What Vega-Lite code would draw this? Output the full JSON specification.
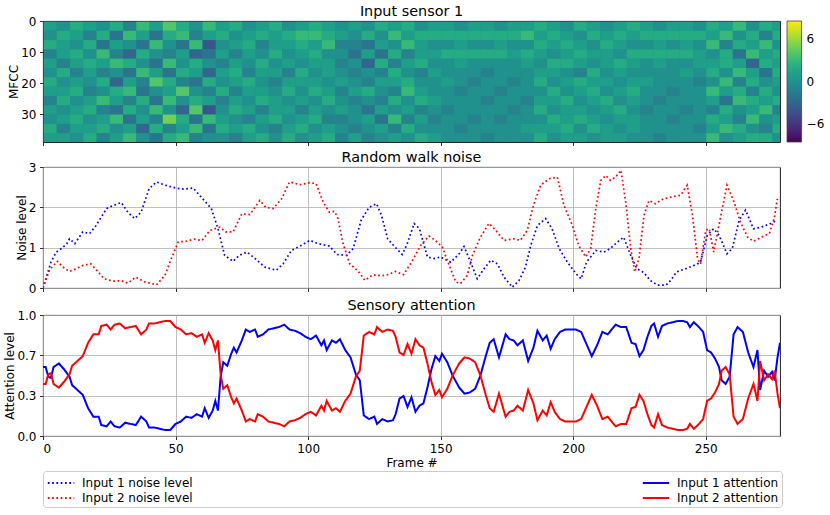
{
  "$schema": "https://vega.github.io/schema/vega-lite/v6.json",
  "padding": {"left": 3, "top": 3, "right": 5, "bottom": 5},
  "config": {
    "font": "DejaVu Sans",
    "view": {"stroke": "#000000", "strokeWidth": 0.9},
    "rect": {"binSpacing": 0},
    "title": {"fontSize": 14.4, "fontWeight": "normal", "color": "#000000", "offset": -4, "anchor": "middle", "frame": "group"},
    "axis": {
      "domain": false,
      "labelFontSize": 12,
      "titleFontSize": 12,
      "titleFontWeight": "normal",
      "labelColor": "#000000",
      "titleColor": "#000000",
      "tickColor": "#000000",
      "tickSize": 3.5,
      "tickWidth": 0.8,
      "labelPadding": 3.5,
      "titlePadding": 0,
      "gridColor": "#b0b0b0",
      "gridWidth": 0.8
    },
    "legend": {"labelFontSize": 12, "labelColor": "#000000"}
  },
  "datasets": {
    "hm": [
      {"f":0,"m":0,"v":1},{"f":0,"m":3,"v":0},{"f":0,"m":6,"v":2},{"f":0,"m":9,"v":-1},{"f":0,"m":12,"v":1},{"f":0,"m":15,"v":0},{"f":0,"m":18,"v":2},{"f":0,"m":21,"v":1},{"f":0,"m":24,"v":-1},{"f":0,"m":27,"v":1},{"f":0,"m":30,"v":0},{"f":0,"m":33,"v":2},{"f":0,"m":36,"v":1},
      {"f":5,"m":0,"v":0},{"f":5,"m":3,"v":2},{"f":5,"m":6,"v":1},{"f":5,"m":9,"v":1},{"f":5,"m":12,"v":-1},{"f":5,"m":15,"v":2},{"f":5,"m":18,"v":0},{"f":5,"m":21,"v":1},{"f":5,"m":24,"v":2},{"f":5,"m":27,"v":0},{"f":5,"m":30,"v":1},{"f":5,"m":33,"v":-1},{"f":5,"m":36,"v":1},
      {"f":10,"m":0,"v":2},{"f":10,"m":3,"v":1},{"f":10,"m":6,"v":0},{"f":10,"m":9,"v":2},{"f":10,"m":12,"v":1},{"f":10,"m":15,"v":-1},{"f":10,"m":18,"v":1},{"f":10,"m":21,"v":2},{"f":10,"m":24,"v":0},{"f":10,"m":27,"v":1},{"f":10,"m":30,"v":2},{"f":10,"m":33,"v":1},{"f":10,"m":36,"v":0},
      {"f":15,"m":0,"v":1},{"f":15,"m":3,"v":-1},{"f":15,"m":6,"v":2},{"f":15,"m":9,"v":0},{"f":15,"m":12,"v":2},{"f":15,"m":15,"v":1},{"f":15,"m":18,"v":0},{"f":15,"m":21,"v":-1},{"f":15,"m":24,"v":1},{"f":15,"m":27,"v":2},{"f":15,"m":30,"v":0},{"f":15,"m":33,"v":1},{"f":15,"m":36,"v":2},
      {"f":20,"m":0,"v":0},{"f":20,"m":3,"v":2},{"f":20,"m":6,"v":-2},{"f":20,"m":9,"v":3},{"f":20,"m":12,"v":1},{"f":20,"m":15,"v":-1},{"f":20,"m":18,"v":2},{"f":20,"m":21,"v":0},{"f":20,"m":24,"v":3},{"f":20,"m":27,"v":-1},{"f":20,"m":30,"v":1},{"f":20,"m":33,"v":2},{"f":20,"m":36,"v":-1},
      {"f":25,"m":0,"v":2},{"f":25,"m":3,"v":-2},{"f":25,"m":6,"v":1},{"f":25,"m":9,"v":-1},{"f":25,"m":12,"v":3},{"f":25,"m":15,"v":0},{"f":25,"m":18,"v":-3},{"f":25,"m":21,"v":2},{"f":25,"m":24,"v":1},{"f":25,"m":27,"v":-2},{"f":25,"m":30,"v":3},{"f":25,"m":33,"v":0},{"f":25,"m":36,"v":1},
      {"f":30,"m":0,"v":-1},{"f":30,"m":3,"v":3},{"f":30,"m":6,"v":0},{"f":30,"m":9,"v":-3},{"f":30,"m":12,"v":2},{"f":30,"m":15,"v":-2},{"f":30,"m":18,"v":1},{"f":30,"m":21,"v":3},{"f":30,"m":24,"v":-1},{"f":30,"m":27,"v":2},{"f":30,"m":30,"v":-2},{"f":30,"m":33,"v":1},{"f":30,"m":36,"v":3},
      {"f":35,"m":0,"v":3},{"f":35,"m":3,"v":1},{"f":35,"m":6,"v":-2},{"f":35,"m":9,"v":2},{"f":35,"m":12,"v":0},{"f":35,"m":15,"v":3},{"f":35,"m":18,"v":-1},{"f":35,"m":21,"v":-2},{"f":35,"m":24,"v":2},{"f":35,"m":27,"v":0},{"f":35,"m":30,"v":1},{"f":35,"m":33,"v":-3},{"f":35,"m":36,"v":0},
      {"f":40,"m":0,"v":1},{"f":40,"m":3,"v":-2},{"f":40,"m":6,"v":3},{"f":40,"m":9,"v":0},{"f":40,"m":12,"v":-2},{"f":40,"m":15,"v":1},{"f":40,"m":18,"v":4},{"f":40,"m":21,"v":0},{"f":40,"m":24,"v":-2},{"f":40,"m":27,"v":3},{"f":40,"m":30,"v":-1},{"f":40,"m":33,"v":2},{"f":40,"m":36,"v":-2},
      {"f":45,"m":0,"v":4},{"f":45,"m":3,"v":2},{"f":45,"m":6,"v":0},{"f":45,"m":9,"v":-1},{"f":45,"m":12,"v":3},{"f":45,"m":15,"v":-2},{"f":45,"m":18,"v":2},{"f":45,"m":21,"v":1},{"f":45,"m":24,"v":3},{"f":45,"m":27,"v":0},{"f":45,"m":30,"v":5},{"f":45,"m":33,"v":-1},{"f":45,"m":36,"v":2},
      {"f":50,"m":0,"v":2},{"f":50,"m":3,"v":3},{"f":50,"m":6,"v":-2},{"f":50,"m":9,"v":1},{"f":50,"m":12,"v":0},{"f":50,"m":15,"v":2},{"f":50,"m":18,"v":-1},{"f":50,"m":21,"v":4},{"f":50,"m":24,"v":0},{"f":50,"m":27,"v":-3},{"f":50,"m":30,"v":2},{"f":50,"m":33,"v":1},{"f":50,"m":36,"v":3},
      {"f":55,"m":0,"v":0},{"f":55,"m":3,"v":-1},{"f":55,"m":6,"v":3},{"f":55,"m":9,"v":-3},{"f":55,"m":12,"v":2},{"f":55,"m":15,"v":1},{"f":55,"m":18,"v":-2},{"f":55,"m":21,"v":0},{"f":55,"m":24,"v":2},{"f":55,"m":27,"v":4},{"f":55,"m":30,"v":-2},{"f":55,"m":33,"v":3},{"f":55,"m":36,"v":-1},
      {"f":60,"m":0,"v":3},{"f":60,"m":3,"v":1},{"f":60,"m":6,"v":-4},{"f":60,"m":9,"v":-2},{"f":60,"m":12,"v":0},{"f":60,"m":15,"v":-3},{"f":60,"m":18,"v":2},{"f":60,"m":21,"v":-1},{"f":60,"m":24,"v":1},{"f":60,"m":27,"v":-4},{"f":60,"m":30,"v":3},{"f":60,"m":33,"v":-2},{"f":60,"m":36,"v":0},
      {"f":65,"m":0,"v":1},{"f":65,"m":3,"v":2},{"f":65,"m":6,"v":0},{"f":65,"m":9,"v":1},{"f":65,"m":12,"v":-1},{"f":65,"m":15,"v":1},{"f":65,"m":18,"v":0},{"f":65,"m":21,"v":2},{"f":65,"m":24,"v":-1},{"f":65,"m":27,"v":0},{"f":65,"m":30,"v":1},{"f":65,"m":33,"v":2},{"f":65,"m":36,"v":0},
      {"f":70,"m":0,"v":2},{"f":70,"m":3,"v":0},{"f":70,"m":6,"v":1},{"f":70,"m":9,"v":-1},{"f":70,"m":12,"v":1},{"f":70,"m":15,"v":2},{"f":70,"m":18,"v":1},{"f":70,"m":21,"v":-1},{"f":70,"m":24,"v":1},{"f":70,"m":27,"v":2},{"f":70,"m":30,"v":0},{"f":70,"m":33,"v":1},{"f":70,"m":36,"v":-1},
      {"f":75,"m":0,"v":0},{"f":75,"m":3,"v":1},{"f":75,"m":6,"v":2},{"f":75,"m":9,"v":1},{"f":75,"m":12,"v":0},{"f":75,"m":15,"v":-1},{"f":75,"m":18,"v":2},{"f":75,"m":21,"v":1},{"f":75,"m":24,"v":0},{"f":75,"m":27,"v":1},{"f":75,"m":30,"v":-1},{"f":75,"m":33,"v":2},{"f":75,"m":36,"v":1},
      {"f":80,"m":0,"v":1},{"f":80,"m":3,"v":2},{"f":80,"m":6,"v":-1},{"f":80,"m":9,"v":0},{"f":80,"m":12,"v":2},{"f":80,"m":15,"v":1},{"f":80,"m":18,"v":0},{"f":80,"m":21,"v":1},{"f":80,"m":24,"v":2},{"f":80,"m":27,"v":-1},{"f":80,"m":30,"v":1},{"f":80,"m":33,"v":0},{"f":80,"m":36,"v":2},
      {"f":85,"m":0,"v":2},{"f":85,"m":3,"v":1},{"f":85,"m":6,"v":1},{"f":85,"m":9,"v":2},{"f":85,"m":12,"v":0},{"f":85,"m":15,"v":1},{"f":85,"m":18,"v":-1},{"f":85,"m":21,"v":0},{"f":85,"m":24,"v":1},{"f":85,"m":27,"v":1},{"f":85,"m":30,"v":2},{"f":85,"m":33,"v":-1},{"f":85,"m":36,"v":0},
      {"f":90,"m":0,"v":0},{"f":90,"m":3,"v":2},{"f":90,"m":6,"v":1},{"f":90,"m":9,"v":0},{"f":90,"m":12,"v":1},{"f":90,"m":15,"v":-1},{"f":90,"m":18,"v":1},{"f":90,"m":21,"v":2},{"f":90,"m":24,"v":0},{"f":90,"m":27,"v":1},{"f":90,"m":30,"v":0},{"f":90,"m":33,"v":1},{"f":90,"m":36,"v":2},
      {"f":95,"m":0,"v":1},{"f":95,"m":3,"v":3},{"f":95,"m":6,"v":2},{"f":95,"m":9,"v":1},{"f":95,"m":12,"v":0},{"f":95,"m":15,"v":2},{"f":95,"m":18,"v":1},{"f":95,"m":21,"v":0},{"f":95,"m":24,"v":1},{"f":95,"m":27,"v":-1},{"f":95,"m":30,"v":1},{"f":95,"m":33,"v":2},{"f":95,"m":36,"v":0},
      {"f":100,"m":0,"v":2},{"f":100,"m":3,"v":3},{"f":100,"m":6,"v":1},{"f":100,"m":9,"v":2},{"f":100,"m":12,"v":1},{"f":100,"m":15,"v":0},{"f":100,"m":18,"v":1},{"f":100,"m":21,"v":2},{"f":100,"m":24,"v":0},{"f":100,"m":27,"v":1},{"f":100,"m":30,"v":2},{"f":100,"m":33,"v":0},{"f":100,"m":36,"v":1},
      {"f":105,"m":0,"v":1},{"f":105,"m":3,"v":2},{"f":105,"m":6,"v":3},{"f":105,"m":9,"v":0},{"f":105,"m":12,"v":1},{"f":105,"m":15,"v":1},{"f":105,"m":18,"v":0},{"f":105,"m":21,"v":1},{"f":105,"m":24,"v":2},{"f":105,"m":27,"v":0},{"f":105,"m":30,"v":-1},{"f":105,"m":33,"v":1},{"f":105,"m":36,"v":2},
      {"f":110,"m":0,"v":0},{"f":110,"m":3,"v":1},{"f":110,"m":6,"v":-1},{"f":110,"m":9,"v":0},{"f":110,"m":12,"v":-1},{"f":110,"m":15,"v":0},{"f":110,"m":18,"v":1},{"f":110,"m":21,"v":-1},{"f":110,"m":24,"v":0},{"f":110,"m":27,"v":1},{"f":110,"m":30,"v":-1},{"f":110,"m":33,"v":0},{"f":110,"m":36,"v":-1},
      {"f":115,"m":0,"v":1},{"f":115,"m":3,"v":0},{"f":115,"m":6,"v":-1},{"f":115,"m":9,"v":-2},{"f":115,"m":12,"v":0},{"f":115,"m":15,"v":-1},{"f":115,"m":18,"v":0},{"f":115,"m":21,"v":1},{"f":115,"m":24,"v":-1},{"f":115,"m":27,"v":0},{"f":115,"m":30,"v":0},{"f":115,"m":33,"v":-1},{"f":115,"m":36,"v":1},
      {"f":120,"m":0,"v":0},{"f":120,"m":3,"v":2},{"f":120,"m":6,"v":-2},{"f":120,"m":9,"v":1},{"f":120,"m":12,"v":-3},{"f":120,"m":15,"v":0},{"f":120,"m":18,"v":-1},{"f":120,"m":21,"v":2},{"f":120,"m":24,"v":0},{"f":120,"m":27,"v":-2},{"f":120,"m":30,"v":1},{"f":120,"m":33,"v":0},{"f":120,"m":36,"v":-1},
      {"f":125,"m":0,"v":2},{"f":125,"m":3,"v":0},{"f":125,"m":6,"v":1},{"f":125,"m":9,"v":-2},{"f":125,"m":12,"v":2},{"f":125,"m":15,"v":-1},{"f":125,"m":18,"v":1},{"f":125,"m":21,"v":0},{"f":125,"m":24,"v":-1},{"f":125,"m":27,"v":1},{"f":125,"m":30,"v":-2},{"f":125,"m":33,"v":1},{"f":125,"m":36,"v":0},
      {"f":130,"m":0,"v":1},{"f":130,"m":3,"v":3},{"f":130,"m":6,"v":0},{"f":130,"m":9,"v":2},{"f":130,"m":12,"v":-1},{"f":130,"m":15,"v":2},{"f":130,"m":18,"v":1},{"f":130,"m":21,"v":-1},{"f":130,"m":24,"v":2},{"f":130,"m":27,"v":0},{"f":130,"m":30,"v":3},{"f":130,"m":33,"v":-1},{"f":130,"m":36,"v":1},
      {"f":135,"m":0,"v":2},{"f":135,"m":3,"v":1},{"f":135,"m":6,"v":3},{"f":135,"m":9,"v":-1},{"f":135,"m":12,"v":1},{"f":135,"m":15,"v":0},{"f":135,"m":18,"v":2},{"f":135,"m":21,"v":3},{"f":135,"m":24,"v":0},{"f":135,"m":27,"v":1},{"f":135,"m":30,"v":-1},{"f":135,"m":33,"v":2},{"f":135,"m":36,"v":0},
      {"f":140,"m":0,"v":0},{"f":140,"m":3,"v":2},{"f":140,"m":6,"v":1},{"f":140,"m":9,"v":1},{"f":140,"m":12,"v":2},{"f":140,"m":15,"v":-1},{"f":140,"m":18,"v":0},{"f":140,"m":21,"v":1},{"f":140,"m":24,"v":2},{"f":140,"m":27,"v":-1},{"f":140,"m":30,"v":1},{"f":140,"m":33,"v":0},{"f":140,"m":36,"v":2},
      {"f":145,"m":0,"v":1},{"f":145,"m":3,"v":2},{"f":145,"m":6,"v":0},{"f":145,"m":9,"v":1},{"f":145,"m":12,"v":0},{"f":145,"m":15,"v":1},{"f":145,"m":18,"v":0},{"f":145,"m":21,"v":0},{"f":145,"m":24,"v":1},{"f":145,"m":27,"v":0},{"f":145,"m":30,"v":-1},{"f":145,"m":33,"v":0},{"f":145,"m":36,"v":1},
      {"f":150,"m":0,"v":1},{"f":150,"m":3,"v":2},{"f":150,"m":6,"v":0},{"f":150,"m":9,"v":2},{"f":150,"m":12,"v":0},{"f":150,"m":15,"v":0},{"f":150,"m":18,"v":1},{"f":150,"m":21,"v":0},{"f":150,"m":24,"v":0},{"f":150,"m":27,"v":-1},{"f":150,"m":30,"v":0},{"f":150,"m":33,"v":0},{"f":150,"m":36,"v":0},
      {"f":155,"m":0,"v":0},{"f":155,"m":3,"v":2},{"f":155,"m":6,"v":1},{"f":155,"m":9,"v":2},{"f":155,"m":12,"v":1},{"f":155,"m":15,"v":0},{"f":155,"m":18,"v":0},{"f":155,"m":21,"v":-1},{"f":155,"m":24,"v":0},{"f":155,"m":27,"v":0},{"f":155,"m":30,"v":0},{"f":155,"m":33,"v":-1},{"f":155,"m":36,"v":0},
      {"f":160,"m":0,"v":1},{"f":160,"m":3,"v":2},{"f":160,"m":6,"v":0},{"f":160,"m":9,"v":2},{"f":160,"m":12,"v":0},{"f":160,"m":15,"v":0},{"f":160,"m":18,"v":-1},{"f":160,"m":21,"v":0},{"f":160,"m":24,"v":0},{"f":160,"m":27,"v":0},{"f":160,"m":30,"v":-1},{"f":160,"m":33,"v":0},{"f":160,"m":36,"v":0},
      {"f":165,"m":0,"v":1},{"f":165,"m":3,"v":2},{"f":165,"m":6,"v":0},{"f":165,"m":9,"v":2},{"f":165,"m":12,"v":0},{"f":165,"m":15,"v":-1},{"f":165,"m":18,"v":0},{"f":165,"m":21,"v":0},{"f":165,"m":24,"v":-1},{"f":165,"m":27,"v":0},{"f":165,"m":30,"v":0},{"f":165,"m":33,"v":0},{"f":165,"m":36,"v":-1},
      {"f":170,"m":0,"v":0},{"f":170,"m":3,"v":2},{"f":170,"m":6,"v":1},{"f":170,"m":9,"v":2},{"f":170,"m":12,"v":0},{"f":170,"m":15,"v":0},{"f":170,"m":18,"v":0},{"f":170,"m":21,"v":-1},{"f":170,"m":24,"v":0},{"f":170,"m":27,"v":0},{"f":170,"m":30,"v":-1},{"f":170,"m":33,"v":0},{"f":170,"m":36,"v":0},
      {"f":175,"m":0,"v":1},{"f":175,"m":3,"v":2},{"f":175,"m":6,"v":0},{"f":175,"m":9,"v":1},{"f":175,"m":12,"v":0},{"f":175,"m":15,"v":0},{"f":175,"m":18,"v":-1},{"f":175,"m":21,"v":0},{"f":175,"m":24,"v":0},{"f":175,"m":27,"v":-1},{"f":175,"m":30,"v":0},{"f":175,"m":33,"v":0},{"f":175,"m":36,"v":0},
      {"f":180,"m":0,"v":1},{"f":180,"m":3,"v":3},{"f":180,"m":6,"v":0},{"f":180,"m":9,"v":2},{"f":180,"m":12,"v":1},{"f":180,"m":15,"v":0},{"f":180,"m":18,"v":0},{"f":180,"m":21,"v":0},{"f":180,"m":24,"v":-1},{"f":180,"m":27,"v":0},{"f":180,"m":30,"v":0},{"f":180,"m":33,"v":1},{"f":180,"m":36,"v":0},
      {"f":185,"m":0,"v":2},{"f":185,"m":3,"v":1},{"f":185,"m":6,"v":2},{"f":185,"m":9,"v":1},{"f":185,"m":12,"v":0},{"f":185,"m":15,"v":1},{"f":185,"m":18,"v":2},{"f":185,"m":21,"v":0},{"f":185,"m":24,"v":1},{"f":185,"m":27,"v":2},{"f":185,"m":30,"v":0},{"f":185,"m":33,"v":1},{"f":185,"m":36,"v":2},
      {"f":190,"m":0,"v":1},{"f":190,"m":3,"v":2},{"f":190,"m":6,"v":1},{"f":190,"m":9,"v":0},{"f":190,"m":12,"v":2},{"f":190,"m":15,"v":1},{"f":190,"m":18,"v":0},{"f":190,"m":21,"v":2},{"f":190,"m":24,"v":1},{"f":190,"m":27,"v":0},{"f":190,"m":30,"v":2},{"f":190,"m":33,"v":1},{"f":190,"m":36,"v":0},
      {"f":195,"m":0,"v":0},{"f":195,"m":3,"v":1},{"f":195,"m":6,"v":2},{"f":195,"m":9,"v":1},{"f":195,"m":12,"v":2},{"f":195,"m":15,"v":0},{"f":195,"m":18,"v":1},{"f":195,"m":21,"v":0},{"f":195,"m":24,"v":2},{"f":195,"m":27,"v":1},{"f":195,"m":30,"v":1},{"f":195,"m":33,"v":2},{"f":195,"m":36,"v":1},
      {"f":200,"m":0,"v":2},{"f":200,"m":3,"v":0},{"f":200,"m":6,"v":1},{"f":200,"m":9,"v":2},{"f":200,"m":12,"v":1},{"f":200,"m":15,"v":-1},{"f":200,"m":18,"v":2},{"f":200,"m":21,"v":1},{"f":200,"m":24,"v":0},{"f":200,"m":27,"v":1},{"f":200,"m":30,"v":2},{"f":200,"m":33,"v":0},{"f":200,"m":36,"v":1},
      {"f":205,"m":0,"v":1},{"f":205,"m":3,"v":2},{"f":205,"m":6,"v":0},{"f":205,"m":9,"v":1},{"f":205,"m":12,"v":0},{"f":205,"m":15,"v":2},{"f":205,"m":18,"v":1},{"f":205,"m":21,"v":2},{"f":205,"m":24,"v":1},{"f":205,"m":27,"v":0},{"f":205,"m":30,"v":1},{"f":205,"m":33,"v":2},{"f":205,"m":36,"v":0},
      {"f":210,"m":0,"v":0},{"f":210,"m":3,"v":1},{"f":210,"m":6,"v":2},{"f":210,"m":9,"v":1},{"f":210,"m":12,"v":1},{"f":210,"m":15,"v":0},{"f":210,"m":18,"v":1},{"f":210,"m":21,"v":0},{"f":210,"m":24,"v":2},{"f":210,"m":27,"v":1},{"f":210,"m":30,"v":0},{"f":210,"m":33,"v":1},{"f":210,"m":36,"v":1},
      {"f":215,"m":0,"v":1},{"f":215,"m":3,"v":2},{"f":215,"m":6,"v":1},{"f":215,"m":9,"v":0},{"f":215,"m":12,"v":2},{"f":215,"m":15,"v":1},{"f":215,"m":18,"v":0},{"f":215,"m":21,"v":1},{"f":215,"m":24,"v":0},{"f":215,"m":27,"v":2},{"f":215,"m":30,"v":1},{"f":215,"m":33,"v":0},{"f":215,"m":36,"v":1},
      {"f":220,"m":0,"v":2},{"f":220,"m":3,"v":1},{"f":220,"m":6,"v":0},{"f":220,"m":9,"v":2},{"f":220,"m":12,"v":1},{"f":220,"m":15,"v":0},{"f":220,"m":18,"v":1},{"f":220,"m":21,"v":2},{"f":220,"m":24,"v":1},{"f":220,"m":27,"v":0},{"f":220,"m":30,"v":1},{"f":220,"m":33,"v":1},{"f":220,"m":36,"v":0},
      {"f":225,"m":0,"v":1},{"f":225,"m":3,"v":2},{"f":225,"m":6,"v":0},{"f":225,"m":9,"v":2},{"f":225,"m":12,"v":0},{"f":225,"m":15,"v":0},{"f":225,"m":18,"v":1},{"f":225,"m":21,"v":0},{"f":225,"m":24,"v":0},{"f":225,"m":27,"v":-1},{"f":225,"m":30,"v":0},{"f":225,"m":33,"v":0},{"f":225,"m":36,"v":0},
      {"f":230,"m":0,"v":0},{"f":230,"m":3,"v":2},{"f":230,"m":6,"v":1},{"f":230,"m":9,"v":2},{"f":230,"m":12,"v":1},{"f":230,"m":15,"v":0},{"f":230,"m":18,"v":0},{"f":230,"m":21,"v":0},{"f":230,"m":24,"v":-1},{"f":230,"m":27,"v":0},{"f":230,"m":30,"v":0},{"f":230,"m":33,"v":0},{"f":230,"m":36,"v":-1},
      {"f":235,"m":0,"v":1},{"f":235,"m":3,"v":2},{"f":235,"m":6,"v":0},{"f":235,"m":9,"v":2},{"f":235,"m":12,"v":0},{"f":235,"m":15,"v":0},{"f":235,"m":18,"v":0},{"f":235,"m":21,"v":-1},{"f":235,"m":24,"v":0},{"f":235,"m":27,"v":0},{"f":235,"m":30,"v":-1},{"f":235,"m":33,"v":0},{"f":235,"m":36,"v":0},
      {"f":240,"m":0,"v":1},{"f":240,"m":3,"v":2},{"f":240,"m":6,"v":1},{"f":240,"m":9,"v":2},{"f":240,"m":12,"v":0},{"f":240,"m":15,"v":1},{"f":240,"m":18,"v":0},{"f":240,"m":21,"v":0},{"f":240,"m":24,"v":0},{"f":240,"m":27,"v":-1},{"f":240,"m":30,"v":0},{"f":240,"m":33,"v":0},{"f":240,"m":36,"v":0},
      {"f":245,"m":0,"v":0},{"f":245,"m":3,"v":2},{"f":245,"m":6,"v":0},{"f":245,"m":9,"v":1},{"f":245,"m":12,"v":1},{"f":245,"m":15,"v":0},{"f":245,"m":18,"v":-1},{"f":245,"m":21,"v":0},{"f":245,"m":24,"v":0},{"f":245,"m":27,"v":0},{"f":245,"m":30,"v":0},{"f":245,"m":33,"v":-1},{"f":245,"m":36,"v":0},
      {"f":250,"m":0,"v":2},{"f":250,"m":3,"v":1},{"f":250,"m":6,"v":3},{"f":250,"m":9,"v":0},{"f":250,"m":12,"v":1},{"f":250,"m":15,"v":2},{"f":250,"m":18,"v":0},{"f":250,"m":21,"v":3},{"f":250,"m":24,"v":1},{"f":250,"m":27,"v":-1},{"f":250,"m":30,"v":2},{"f":250,"m":33,"v":1},{"f":250,"m":36,"v":3},
      {"f":255,"m":0,"v":1},{"f":255,"m":3,"v":3},{"f":255,"m":6,"v":-1},{"f":255,"m":9,"v":2},{"f":255,"m":12,"v":2},{"f":255,"m":15,"v":0},{"f":255,"m":18,"v":3},{"f":255,"m":21,"v":1},{"f":255,"m":24,"v":-2},{"f":255,"m":27,"v":2},{"f":255,"m":30,"v":1},{"f":255,"m":33,"v":3},{"f":255,"m":36,"v":0},
      {"f":260,"m":0,"v":3},{"f":260,"m":3,"v":0},{"f":260,"m":6,"v":2},{"f":260,"m":9,"v":-2},{"f":260,"m":12,"v":1},{"f":260,"m":15,"v":3},{"f":260,"m":18,"v":-1},{"f":260,"m":21,"v":2},{"f":260,"m":24,"v":3},{"f":260,"m":27,"v":0},{"f":260,"m":30,"v":-1},{"f":260,"m":33,"v":2},{"f":260,"m":36,"v":1},
      {"f":265,"m":0,"v":0},{"f":265,"m":3,"v":2},{"f":265,"m":6,"v":1},{"f":265,"m":9,"v":3},{"f":265,"m":12,"v":-3},{"f":265,"m":15,"v":1},{"f":265,"m":18,"v":2},{"f":265,"m":21,"v":-1},{"f":265,"m":24,"v":2},{"f":265,"m":27,"v":1},{"f":265,"m":30,"v":3},{"f":265,"m":33,"v":0},{"f":265,"m":36,"v":2},
      {"f":270,"m":0,"v":2},{"f":270,"m":3,"v":-1},{"f":270,"m":6,"v":3},{"f":270,"m":9,"v":1},{"f":270,"m":12,"v":2},{"f":270,"m":15,"v":-2},{"f":270,"m":18,"v":0},{"f":270,"m":21,"v":2},{"f":270,"m":24,"v":1},{"f":270,"m":27,"v":3},{"f":270,"m":30,"v":0},{"f":270,"m":33,"v":-1},{"f":270,"m":36,"v":2},
      {"f":275,"m":0,"v":1},{"f":275,"m":3,"v":2},{"f":275,"m":6,"v":0},{"f":275,"m":9,"v":2},{"f":275,"m":12,"v":1},{"f":275,"m":15,"v":2},{"f":275,"m":18,"v":1},{"f":275,"m":21,"v":0},{"f":275,"m":24,"v":2},{"f":275,"m":27,"v":-1},{"f":275,"m":30,"v":1},{"f":275,"m":33,"v":2},{"f":275,"m":36,"v":0}
    ],
    "noise": [
      {"f":0,"s":"n1","v":0},{"f":3,"s":"n1","v":0.64},{"f":5,"s":"n1","v":0.89},{"f":7,"s":"n1","v":0.98},{"f":9,"s":"n1","v":1.1},{"f":10,"s":"n1","v":1.22},{"f":12,"s":"n1","v":1.1},{"f":15,"s":"n1","v":1.39},{"f":17.6,"s":"n1","v":1.35},{"f":20,"s":"n1","v":1.55},{"f":24,"s":"n1","v":1.97},{"f":26,"s":"n1","v":2.03},{"f":29.5,"s":"n1","v":2.12},{"f":32,"s":"n1","v":1.88},{"f":34.6,"s":"n1","v":1.72},{"f":37,"s":"n1","v":1.88},{"f":40,"s":"n1","v":2.46},{"f":42.8,"s":"n1","v":2.63},{"f":46,"s":"n1","v":2.55},{"f":50,"s":"n1","v":2.48},{"f":53,"s":"n1","v":2.45},{"f":56.6,"s":"n1","v":2.48},{"f":60,"s":"n1","v":2.23},{"f":63.5,"s":"n1","v":1.97},{"f":66,"s":"n1","v":1.47},{"f":68.5,"s":"n1","v":0.81},{"f":71.7,"s":"n1","v":0.66},{"f":74,"s":"n1","v":0.81},{"f":77,"s":"n1","v":0.89},{"f":80,"s":"n1","v":0.73},{"f":83.6,"s":"n1","v":0.52},{"f":88,"s":"n1","v":0.44},{"f":90.6,"s":"n1","v":0.6},{"f":93.7,"s":"n1","v":0.93},{"f":97.5,"s":"n1","v":1.06},{"f":100.6,"s":"n1","v":1.18},{"f":103.8,"s":"n1","v":1.1},{"f":108,"s":"n1","v":1.04},{"f":111,"s":"n1","v":0.83},{"f":114.5,"s":"n1","v":0.81},{"f":117,"s":"n1","v":0.98},{"f":120,"s":"n1","v":1.68},{"f":123,"s":"n1","v":2.0},{"f":125.8,"s":"n1","v":2.09},{"f":127.7,"s":"n1","v":1.8},{"f":130,"s":"n1","v":1.22},{"f":133,"s":"n1","v":1.0},{"f":135.5,"s":"n1","v":0.83},{"f":137.4,"s":"n1","v":1.1},{"f":140,"s":"n1","v":1.6},{"f":142,"s":"n1","v":1.47},{"f":145,"s":"n1","v":0.77},{"f":147.5,"s":"n1","v":0.73},{"f":150,"s":"n1","v":0.77},{"f":153.8,"s":"n1","v":0.64},{"f":157,"s":"n1","v":0.85},{"f":158.8,"s":"n1","v":1.03},{"f":161.3,"s":"n1","v":0.64},{"f":163.8,"s":"n1","v":0.23},{"f":166.4,"s":"n1","v":0.48},{"f":168.9,"s":"n1","v":0.69},{"f":171.4,"s":"n1","v":0.6},{"f":173.9,"s":"n1","v":0.27},{"f":177,"s":"n1","v":0.02},{"f":179.6,"s":"n1","v":0.19},{"f":182,"s":"n1","v":0.52},{"f":184,"s":"n1","v":1.06},{"f":186.5,"s":"n1","v":1.55},{"f":189.6,"s":"n1","v":1.72},{"f":192,"s":"n1","v":1.47},{"f":194.7,"s":"n1","v":0.98},{"f":197.8,"s":"n1","v":0.64},{"f":201,"s":"n1","v":0.36},{"f":203,"s":"n1","v":0.23},{"f":205,"s":"n1","v":0.64},{"f":208.5,"s":"n1","v":0.93},{"f":211.6,"s":"n1","v":0.89},{"f":214,"s":"n1","v":0.98},{"f":216.7,"s":"n1","v":1.14},{"f":219,"s":"n1","v":1.26},{"f":221.7,"s":"n1","v":0.81},{"f":224,"s":"n1","v":0.48},{"f":226.7,"s":"n1","v":0.38},{"f":229,"s":"n1","v":0.19},{"f":231.8,"s":"n1","v":0.07},{"f":235,"s":"n1","v":0.07},{"f":236.8,"s":"n1","v":0.19},{"f":239,"s":"n1","v":0.4},{"f":242.5,"s":"n1","v":0.48},{"f":245.6,"s":"n1","v":0.56},{"f":248,"s":"n1","v":0.64},{"f":250.6,"s":"n1","v":1.31},{"f":253,"s":"n1","v":1.47},{"f":255,"s":"n1","v":1.31},{"f":258,"s":"n1","v":0.85},{"f":260,"s":"n1","v":0.98},{"f":262.6,"s":"n1","v":1.68},{"f":265,"s":"n1","v":1.93},{"f":268,"s":"n1","v":1.47},{"f":271,"s":"n1","v":1.51},{"f":274.5,"s":"n1","v":1.6},{"f":277,"s":"n1","v":1.68},
      {"f":0,"s":"n2","v":0},{"f":2.5,"s":"n2","v":0.45},{"f":5.4,"s":"n2","v":0.66},{"f":7.5,"s":"n2","v":0.52},{"f":10,"s":"n2","v":0.41},{"f":12.6,"s":"n2","v":0.48},{"f":15,"s":"n2","v":0.56},{"f":18,"s":"n2","v":0.6},{"f":20.8,"s":"n2","v":0.4},{"f":23,"s":"n2","v":0.23},{"f":26.4,"s":"n2","v":0.17},{"f":29.6,"s":"n2","v":0.18},{"f":32,"s":"n2","v":0.12},{"f":35,"s":"n2","v":0.27},{"f":38.4,"s":"n2","v":0.15},{"f":42.8,"s":"n2","v":0.08},{"f":46,"s":"n2","v":0.31},{"f":48.4,"s":"n2","v":0.73},{"f":51,"s":"n2","v":1.14},{"f":54,"s":"n2","v":1.16},{"f":57,"s":"n2","v":1.21},{"f":60,"s":"n2","v":1.18},{"f":63,"s":"n2","v":1.43},{"f":66.7,"s":"n2","v":1.51},{"f":69,"s":"n2","v":1.39},{"f":71.7,"s":"n2","v":1.39},{"f":75,"s":"n2","v":1.84},{"f":78,"s":"n2","v":1.82},{"f":81.8,"s":"n2","v":2.17},{"f":84,"s":"n2","v":2.0},{"f":86.8,"s":"n2","v":1.97},{"f":90,"s":"n2","v":2.21},{"f":93,"s":"n2","v":2.63},{"f":96.9,"s":"n2","v":2.56},{"f":100.6,"s":"n2","v":2.61},{"f":103,"s":"n2","v":2.59},{"f":105.7,"s":"n2","v":2.13},{"f":108,"s":"n2","v":1.88},{"f":110,"s":"n2","v":1.9},{"f":111.3,"s":"n2","v":1.72},{"f":113,"s":"n2","v":1.14},{"f":115.7,"s":"n2","v":0.6},{"f":119,"s":"n2","v":0.41},{"f":121.4,"s":"n2","v":0.19},{"f":124.5,"s":"n2","v":0.33},{"f":127.7,"s":"n2","v":0.3},{"f":130,"s":"n2","v":0.33},{"f":133,"s":"n2","v":0.41},{"f":136,"s":"n2","v":0.33},{"f":139,"s":"n2","v":0.64},{"f":142.5,"s":"n2","v":1.06},{"f":145.6,"s":"n2","v":1.29},{"f":148,"s":"n2","v":1.18},{"f":150.6,"s":"n2","v":1.02},{"f":153,"s":"n2","v":0.6},{"f":155.7,"s":"n2","v":0.15},{"f":157.5,"s":"n2","v":0.11},{"f":160,"s":"n2","v":0.31},{"f":162,"s":"n2","v":0.81},{"f":165,"s":"n2","v":1.26},{"f":168.2,"s":"n2","v":1.6},{"f":170.8,"s":"n2","v":1.43},{"f":173.9,"s":"n2","v":1.18},{"f":177.7,"s":"n2","v":1.22},{"f":180,"s":"n2","v":1.18},{"f":182.7,"s":"n2","v":1.43},{"f":185,"s":"n2","v":2.05},{"f":187.7,"s":"n2","v":2.55},{"f":191,"s":"n2","v":2.71},{"f":194,"s":"n2","v":2.75},{"f":196.5,"s":"n2","v":2.05},{"f":199.7,"s":"n2","v":1.55},{"f":202,"s":"n2","v":1.06},{"f":204.7,"s":"n2","v":0.77},{"f":206.6,"s":"n2","v":0.98},{"f":208.5,"s":"n2","v":1.97},{"f":210.4,"s":"n2","v":2.67},{"f":212.3,"s":"n2","v":2.79},{"f":214,"s":"n2","v":2.67},{"f":216,"s":"n2","v":2.75},{"f":218,"s":"n2","v":2.92},{"f":219.8,"s":"n2","v":2.13},{"f":221.7,"s":"n2","v":0.98},{"f":223.2,"s":"n2","v":0.4},{"f":224.8,"s":"n2","v":0.73},{"f":226.7,"s":"n2","v":1.8},{"f":228.6,"s":"n2","v":2.17},{"f":231,"s":"n2","v":2.09},{"f":234,"s":"n2","v":2.21},{"f":237.4,"s":"n2","v":2.26},{"f":240.5,"s":"n2","v":2.3},{"f":243,"s":"n2","v":2.55},{"f":245,"s":"n2","v":1.8},{"f":246.9,"s":"n2","v":0.73},{"f":248,"s":"n2","v":0.6},{"f":250,"s":"n2","v":1.43},{"f":251.3,"s":"n2","v":1.47},{"f":253,"s":"n2","v":0.89},{"f":255.7,"s":"n2","v":1.8},{"f":258,"s":"n2","v":2.55},{"f":260.7,"s":"n2","v":2.13},{"f":263,"s":"n2","v":1.64},{"f":265.8,"s":"n2","v":1.26},{"f":268,"s":"n2","v":1.16},{"f":271,"s":"n2","v":1.26},{"f":274,"s":"n2","v":1.35},{"f":275.8,"s":"n2","v":1.72},{"f":277,"s":"n2","v":2.21}
    ],
    "att": [
      {"f":0,"a1":0.57,"a2":0.43},{"f":1,"a1":0.57,"a2":0.43},{"f":2,"a1":0.49,"a2":0.51},{"f":3,"a1":0.48,"a2":0.52},{"f":4,"a1":0.57,"a2":0.43},{"f":6,"a1":0.6,"a2":0.4},{"f":8,"a1":0.55,"a2":0.45},{"f":10,"a1":0.49,"a2":0.51},{"f":11,"a1":0.42,"a2":0.58},{"f":13,"a1":0.38,"a2":0.62},{"f":15,"a1":0.34,"a2":0.66},{"f":17,"a1":0.23,"a2":0.77},{"f":19,"a1":0.16,"a2":0.84},{"f":21,"a1":0.16,"a2":0.84},{"f":22,"a1":0.09,"a2":0.91},{"f":24,"a1":0.08,"a2":0.92},{"f":25.5,"a1":0.12,"a2":0.88},{"f":27,"a1":0.08,"a2":0.92},{"f":29,"a1":0.07,"a2":0.93},{"f":31,"a1":0.11,"a2":0.89},{"f":33,"a1":0.1,"a2":0.9},{"f":35,"a1":0.09,"a2":0.91},{"f":37,"a1":0.16,"a2":0.84},{"f":39,"a1":0.12,"a2":0.88},{"f":40,"a1":0.07,"a2":0.93},{"f":42,"a1":0.07,"a2":0.93},{"f":44,"a1":0.06,"a2":0.94},{"f":46,"a1":0.05,"a2":0.95},{"f":48,"a1":0.05,"a2":0.95},{"f":50,"a1":0.1,"a2":0.9},{"f":52,"a1":0.12,"a2":0.88},{"f":54,"a1":0.16,"a2":0.84},{"f":56,"a1":0.15,"a2":0.85},{"f":58,"a1":0.18,"a2":0.82},{"f":60,"a1":0.16,"a2":0.84},{"f":61,"a1":0.23,"a2":0.77},{"f":62.5,"a1":0.15,"a2":0.85},{"f":64,"a1":0.21,"a2":0.79},{"f":65,"a1":0.29,"a2":0.71},{"f":66,"a1":0.21,"a2":0.79},{"f":67,"a1":0.49,"a2":0.51},{"f":68,"a1":0.61,"a2":0.39},{"f":69.5,"a1":0.58,"a2":0.42},{"f":71,"a1":0.68,"a2":0.32},{"f":72,"a1":0.73,"a2":0.27},{"f":73,"a1":0.69,"a2":0.31},{"f":75,"a1":0.79,"a2":0.21},{"f":76.5,"a1":0.88,"a2":0.12},{"f":78,"a1":0.86,"a2":0.14},{"f":80,"a1":0.88,"a2":0.12},{"f":81,"a1":0.82,"a2":0.18},{"f":83,"a1":0.84,"a2":0.16},{"f":85,"a1":0.88,"a2":0.12},{"f":87,"a1":0.89,"a2":0.11},{"f":89,"a1":0.9,"a2":0.1},{"f":91,"a1":0.92,"a2":0.08},{"f":93,"a1":0.88,"a2":0.12},{"f":95,"a1":0.87,"a2":0.13},{"f":97,"a1":0.85,"a2":0.15},{"f":99,"a1":0.82,"a2":0.18},{"f":101,"a1":0.8,"a2":0.2},{"f":103,"a1":0.83,"a2":0.17},{"f":105,"a1":0.75,"a2":0.25},{"f":106,"a1":0.79,"a2":0.21},{"f":107,"a1":0.71,"a2":0.29},{"f":109,"a1":0.79,"a2":0.21},{"f":110.5,"a1":0.77,"a2":0.23},{"f":112,"a1":0.8,"a2":0.2},{"f":114,"a1":0.71,"a2":0.29},{"f":116,"a1":0.65,"a2":0.35},{"f":118,"a1":0.51,"a2":0.49},{"f":119.5,"a1":0.46,"a2":0.54},{"f":121,"a1":0.17,"a2":0.83},{"f":123,"a1":0.14,"a2":0.86},{"f":125,"a1":0.16,"a2":0.84},{"f":126,"a1":0.1,"a2":0.9},{"f":128,"a1":0.14,"a2":0.86},{"f":130,"a1":0.12,"a2":0.88},{"f":132,"a1":0.13,"a2":0.87},{"f":133,"a1":0.18,"a2":0.82},{"f":134.5,"a1":0.31,"a2":0.69},{"f":136,"a1":0.33,"a2":0.67},{"f":137.5,"a1":0.24,"a2":0.76},{"f":139,"a1":0.32,"a2":0.68},{"f":140.5,"a1":0.2,"a2":0.8},{"f":142,"a1":0.25,"a2":0.75},{"f":143.5,"a1":0.27,"a2":0.73},{"f":145,"a1":0.4,"a2":0.6},{"f":146.5,"a1":0.55,"a2":0.45},{"f":148,"a1":0.66,"a2":0.34},{"f":149.5,"a1":0.62,"a2":0.38},{"f":150.5,"a1":0.68,"a2":0.32},{"f":152.5,"a1":0.61,"a2":0.39},{"f":154.5,"a1":0.5,"a2":0.5},{"f":157,"a1":0.4,"a2":0.6},{"f":159,"a1":0.35,"a2":0.65},{"f":161,"a1":0.36,"a2":0.64},{"f":163,"a1":0.39,"a2":0.61},{"f":165,"a1":0.5,"a2":0.5},{"f":167,"a1":0.66,"a2":0.34},{"f":168.5,"a1":0.77,"a2":0.23},{"f":170,"a1":0.8,"a2":0.2},{"f":172,"a1":0.65,"a2":0.35},{"f":174.5,"a1":0.84,"a2":0.16},{"f":176,"a1":0.8,"a2":0.2},{"f":177.5,"a1":0.79,"a2":0.21},{"f":179,"a1":0.75,"a2":0.25},{"f":181,"a1":0.79,"a2":0.21},{"f":183,"a1":0.62,"a2":0.38},{"f":185,"a1":0.73,"a2":0.27},{"f":186.5,"a1":0.87,"a2":0.13},{"f":188.5,"a1":0.79,"a2":0.21},{"f":190,"a1":0.83,"a2":0.17},{"f":191.5,"a1":0.72,"a2":0.28},{"f":193,"a1":0.8,"a2":0.2},{"f":195,"a1":0.86,"a2":0.14},{"f":197,"a1":0.88,"a2":0.12},{"f":199,"a1":0.88,"a2":0.12},{"f":201,"a1":0.88,"a2":0.12},{"f":203,"a1":0.86,"a2":0.14},{"f":205,"a1":0.76,"a2":0.24},{"f":207,"a1":0.66,"a2":0.34},{"f":209,"a1":0.75,"a2":0.25},{"f":211,"a1":0.86,"a2":0.14},{"f":213,"a1":0.84,"a2":0.16},{"f":214.5,"a1":0.88,"a2":0.12},{"f":216,"a1":0.92,"a2":0.08},{"f":218,"a1":0.9,"a2":0.1},{"f":220,"a1":0.9,"a2":0.1},{"f":222,"a1":0.77,"a2":0.23},{"f":223.5,"a1":0.76,"a2":0.24},{"f":225,"a1":0.66,"a2":0.34},{"f":226.5,"a1":0.71,"a2":0.29},{"f":228,"a1":0.82,"a2":0.18},{"f":229.5,"a1":0.91,"a2":0.09},{"f":230.5,"a1":0.93,"a2":0.07},{"f":232,"a1":0.82,"a2":0.18},{"f":233.5,"a1":0.91,"a2":0.09},{"f":235.5,"a1":0.93,"a2":0.07},{"f":237.5,"a1":0.94,"a2":0.06},{"f":239.5,"a1":0.95,"a2":0.05},{"f":241.5,"a1":0.95,"a2":0.05},{"f":243,"a1":0.94,"a2":0.06},{"f":244,"a1":0.9,"a2":0.1},{"f":245.5,"a1":0.94,"a2":0.06},{"f":247,"a1":0.91,"a2":0.09},{"f":249,"a1":0.86,"a2":0.14},{"f":250.5,"a1":0.71,"a2":0.29},{"f":252,"a1":0.69,"a2":0.31},{"f":253.5,"a1":0.64,"a2":0.36},{"f":255,"a1":0.57,"a2":0.43},{"f":256,"a1":0.46,"a2":0.54},{"f":257.5,"a1":0.43,"a2":0.57},{"f":259,"a1":0.49,"a2":0.51},{"f":260.5,"a1":0.84,"a2":0.16},{"f":262,"a1":0.9,"a2":0.1},{"f":264,"a1":0.86,"a2":0.14},{"f":266,"a1":0.69,"a2":0.31},{"f":268,"a1":0.57,"a2":0.43},{"f":269.5,"a1":0.71,"a2":0.29},{"f":270.5,"a1":0.38,"a2":0.62},{"f":272,"a1":0.54,"a2":0.46},{"f":273.5,"a1":0.49,"a2":0.51},{"f":275,"a1":0.53,"a2":0.47},{"f":276,"a1":0.46,"a2":0.54},{"f":277,"a1":0.64,"a2":0.36},{"f":278,"a1":0.77,"a2":0.23}
    ]
  },
  "spacing": 2,
  "resolve": {"scale": {"x": "independent", "y": "independent", "color": "independent", "strokeDash": "independent"}},
  "vconcat": [
    {
      "title": "Input sensor 1",
      "width": 737,
      "height": 121,
      "view": {"fill": "#22908c", "stroke": "#000000", "strokeWidth": 0.9},
      "data": {"name": "hm"},
      "mark": {"type": "rect", "clip": true, "binSpacing": 0},
      "encoding": {
        "x": {"field": "f", "type": "quantitative", "bin": {"step": 5, "extent": [0, 280], "nice": false},
              "scale": {"domain": [0, 278], "nice": false},
              "axis": {"values": [0, 50, 100, 150, 200, 250], "labels": false, "title": null, "grid": false}},
        "y": {"field": "m", "type": "quantitative", "bin": {"step": 3, "extent": [0, 39], "nice": false},
              "scale": {"domain": [0, 39], "reverse": true, "nice": false},
              "axis": {"values": [0, 10, 20, 30], "format": "d", "title": "MFCC", "grid": false}},
        "color": {"field": "v", "type": "quantitative",
                  "scale": {"scheme": "viridis", "domain": [-8.6, 8.6]},
                  "legend": {"title": null, "values": [-6, 0, 6], "format": "d", "direction": "vertical",
                             "gradientLength": 121, "gradientThickness": 14.6, "offset": 7, "labelOffset": 5,
                             "gradientStrokeColor": "#444444", "gradientStrokeWidth": 0.8}}
      }
    },
    {
      "title": "Random walk noise",
      "width": 737,
      "height": 121,
      "data": {"name": "noise"},
      "mark": {"type": "line", "strokeWidth": 1.7, "clip": true},
      "encoding": {
        "x": {"field": "f", "type": "quantitative", "scale": {"domain": [0, 278], "nice": false},
              "axis": {"values": [0, 50, 100, 150, 200, 250], "labels": false, "title": null, "grid": true}},
        "y": {"field": "v", "type": "quantitative", "scale": {"domain": [0, 3], "nice": false},
              "axis": {"values": [0, 1, 2, 3], "title": "Noise level", "grid": true}},
        "color": {"field": "s", "type": "nominal",
                  "scale": {"domain": ["n1", "n2", "a1", "a2"], "range": ["#0000ff", "#ff0000", "#0000ff", "#ff0000"]},
                  "legend": null},
        "strokeDash": {"field": "s", "type": "nominal",
                       "scale": {"domain": ["n1", "n2", "a1", "a2"], "range": [[1.7, 2.6], [1.7, 2.6], [1, 0], [1, 0]]},
                       "legend": null}
      }
    },
    {
      "title": "Sensory attention",
      "width": 737,
      "height": 121,
      "data": {"name": "att"},
      "transform": [{"fold": ["a1", "a2"], "as": ["s", "v"]}],
      "mark": {"type": "line", "strokeWidth": 2, "clip": true},
      "encoding": {
        "x": {"field": "f", "type": "quantitative", "scale": {"domain": [0, 278], "nice": false},
              "axis": {"values": [0, 50, 100, 150, 200, 250], "title": "Frame #", "grid": true, "titlePadding": 3}},
        "y": {"field": "v", "type": "quantitative", "scale": {"domain": [0, 1], "nice": false},
              "axis": {"values": [0, 0.3333, 0.6667, 1], "format": ".1f", "title": "Attention level", "grid": true}},
        "color": {"field": "s", "type": "nominal",
                  "scale": {"domain": ["n1", "n2", "a1", "a2"], "range": ["#0000ff", "#ff0000", "#0000ff", "#ff0000"]},
                  "legend": {"orient": "none", "legendX": 0, "legendY": 156, "columns": 2, "columnPadding": 445,
                             "title": null, "symbolType": "M-1.65,0L1.65,0", "symbolSize": 256, "symbolStrokeWidth": 2,
                             "labelOffset": 12, "padding": 3, "rowPadding": 0, "symbolOffset": 6,
                             "strokeColor": "#cccccc", "fillColor": "#ffffff", "cornerRadius": 3,
                             "labelExpr": "datum.label == 'n1' ? 'Input 1 noise level' : datum.label == 'n2' ? 'Input 2 noise level' : datum.label == 'a1' ? 'Input 1 attention' : 'Input 2 attention'"}},
        "strokeDash": {"field": "s", "type": "nominal",
                       "scale": {"domain": ["n1", "n2", "a1", "a2"], "range": [[1.7, 2.6], [1.7, 2.6], [1, 0], [1, 0]]}}
      }
    }
  ]
}
